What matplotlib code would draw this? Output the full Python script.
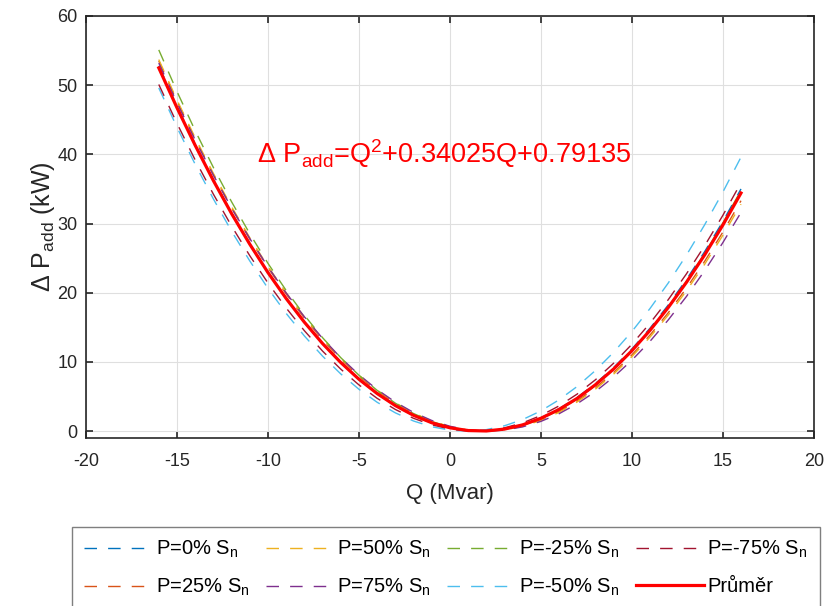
import matplotlib
matplotlib.use('Agg')
import matplotlib.pyplot as plt
import numpy as np

plt.rcParams['font.family'] = ['Liberation Sans', 'DejaVu Sans']
plt.rcParams['mathtext.default'] = 'regular'
plt.rcParams['axes.unicode_minus'] = False

# reactive power (Mvar)
Q = list(range(-16, 17))

# additional losses (kW), one list per loading case
p_0 = [52.80, 46.98, 41.51, 36.37, 31.57, 27.11, 22.99, 19.21, 15.77, 12.67, 9.90, 7.48, 5.40, 3.65, 2.25, 1.18, 0.46,
       0.07, 0.02, 0.31, 0.95, 1.92, 3.23, 4.88, 6.87, 9.19, 11.86, 14.87, 18.22, 21.90, 25.93, 30.29, 35.00]
p_25 = [53.50, 47.69, 42.21, 37.06, 32.25, 27.77, 23.63, 19.82, 16.35, 13.21, 10.40, 7.93, 5.80, 3.99, 2.53, 1.39, 0.60,
        0.13, 0.00, 0.21, 0.75, 1.62, 2.83, 4.37, 6.25, 8.46, 11.00, 13.88, 17.10, 20.65, 24.53, 28.75, 33.30]
p_50 = [53.70, 47.87, 42.40, 37.25, 32.44, 27.96, 23.81, 20.00, 16.51, 13.36, 10.55, 8.07, 5.92, 4.10, 2.61, 1.46, 0.64,
        0.15, 0.00, 0.18, 0.69, 1.54, 2.71, 4.22, 6.07, 8.24, 10.75, 13.59, 16.77, 20.27, 24.11, 28.29, 32.80]
p_75 = [53.20, 47.48, 42.08, 37.01, 32.26, 27.84, 23.74, 19.97, 16.53, 13.41, 10.61, 8.15, 6.01, 4.19, 2.70, 1.54, 0.70,
        0.19, 0.00, 0.14, 0.61, 1.40, 2.51, 3.96, 5.72, 7.82, 10.24, 12.98, 16.06, 19.45, 23.18, 27.23, 31.60]
p_m25 = [55.10, 49.09, 43.43, 38.11, 33.15, 28.53, 24.25, 20.33, 16.75, 13.51, 10.62, 8.08, 5.89, 4.04, 2.54, 1.39, 0.58,
         0.12, 0.01, 0.24, 0.82, 1.74, 3.01, 4.63, 6.60, 8.91, 11.57, 14.57, 17.92, 21.62, 25.67, 30.06, 34.80]
p_m50 = [49.60, 43.91, 38.56, 33.56, 28.90, 24.60, 20.64, 17.02, 13.76, 10.84, 8.27, 6.05, 4.17, 2.64, 1.46, 0.63, 0.14,
         0.00, 0.21, 0.77, 1.67, 2.92, 4.52, 6.46, 8.76, 11.40, 14.38, 17.72, 21.40, 25.43, 29.81, 34.53, 39.60]
p_m75 = [50.10, 44.48, 39.20, 34.25, 29.64, 25.36, 21.41, 17.80, 14.52, 11.57, 8.96, 6.68, 4.74, 3.13, 1.85, 0.91, 0.30,
         0.02, 0.07, 0.47, 1.19, 2.25, 3.64, 5.36, 7.42, 9.81, 12.54, 15.60, 18.99, 22.72, 26.78, 31.17, 35.90]
prumer = [52.50, 46.74, 41.31, 36.21, 31.44, 27.02, 22.92, 19.17, 15.75, 12.66, 9.92, 7.50, 5.43, 3.69, 2.28, 1.21, 0.48,
          0.08, 0.02, 0.29, 0.90, 1.85, 3.13, 4.74, 6.70, 8.98, 11.61, 14.57, 17.86, 21.50, 25.46, 29.77, 34.41]

series = [p_0, p_25, p_50, p_75, p_m25, p_m50, p_m75]
labels = ['P=0% S$_n$', 'P=25% S$_n$', 'P=50% S$_n$', 'P=75% S$_n$',
          'P=-25% S$_n$', 'P=-50% S$_n$', 'P=-75% S$_n$']
colors = ['#0072BD', '#D95319', '#EDB120', '#7E2F8E', '#77AC30', '#4DBEEE', '#A2142F']

fig = plt.figure(figsize=(8.27, 6.06), dpi=100)
ax = fig.add_axes([0.104, 0.2772, 0.880, 0.6964])

for y, lab, c in zip(series, labels, colors):
    ax.plot(Q, y, color=c, linewidth=1.0, linestyle=(0, (9, 8)), label=lab)
ax.plot(Q, prumer, color='#FF0000', linewidth=2.3, label='Průměr')

ax.text(-10.6, 38.8, 'Δ P$_{add}$=Q$^2$+0.34025Q+0.79135', color='#FF0000',
        fontsize=19.5, ha='left', va='baseline')

ax.set_xlim(-20, 20)
ax.set_ylim(-1, 60)
ax.set_xticks(np.arange(-20, 21, 5))
ax.set_yticks(np.arange(0, 61, 10))
ax.grid(True, color='#DFDFDF', linewidth=0.8)
ax.set_axisbelow(True)
ax.tick_params(direction='in', top=True, right=True, length=5, width=1.2,
               labelsize=13, colors='#262626')
ax.tick_params(axis='x', pad=11)
ax.tick_params(axis='y', pad=6)
for s in ax.spines.values():
    s.set_linewidth(1.2)
    s.set_color('#262626')

ax.set_xlabel('Q (Mvar)', fontsize=16, color='#262626', labelpad=9)
ax.set_ylabel('Δ P$_{add}$ (kW)', fontsize=18, color='#262626', labelpad=0)

leg = fig.legend(loc='upper left', bbox_to_anchor=(0.087, 0.131), ncol=4,
                 fontsize=14.5, handlelength=3.4, handletextpad=0.15,
                 columnspacing=0.82, labelspacing=0.85, borderpad=0.6,
                 borderaxespad=0, fancybox=False, framealpha=1, edgecolor='#7F7F7F')
leg.get_frame().set_linewidth(1.0)

fig.savefig('out.png', dpi=100)
